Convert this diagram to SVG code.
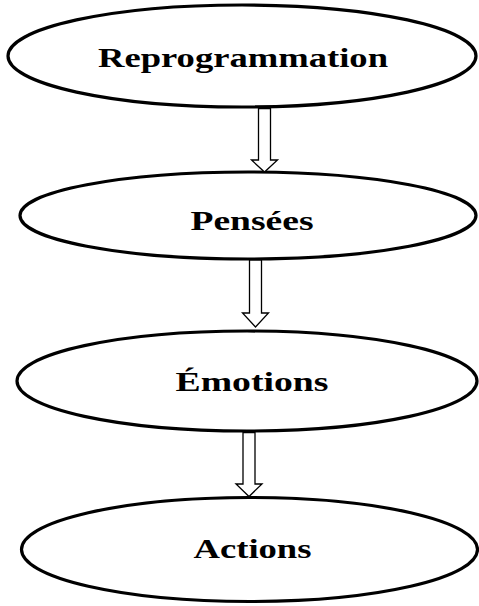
<svg xmlns="http://www.w3.org/2000/svg" width="479" height="606" viewBox="0 0 479 606">
<style>
.node ellipse{fill:#fff;stroke:#000;stroke-width:3.2}
.node text{font-family:"Liberation Serif","Times New Roman",serif;font-weight:bold;font-size:28px;fill:#000;text-anchor:middle}
.arrow{fill:#fff;stroke:#000;stroke-width:1.3;stroke-linejoin:miter}
</style>
<rect width="479" height="606" fill="#fff"/>
<g id="node-reprogrammation" class="node">
<ellipse cx="242" cy="56" rx="234" ry="51"/>
<text x="243" y="67" textLength="290" lengthAdjust="spacingAndGlyphs">Reprogrammation</text>
</g>
<g id="node-pensees" class="node">
<ellipse cx="248" cy="215.5" rx="228" ry="43.5"/>
<text x="252" y="230" textLength="123" lengthAdjust="spacingAndGlyphs">Pensées</text>
</g>
<g id="node-emotions" class="node">
<ellipse cx="247" cy="381" rx="230" ry="50"/>
<text x="252" y="391" textLength="153" lengthAdjust="spacingAndGlyphs">Émotions</text>
</g>
<g id="node-actions" class="node">
<ellipse cx="249.5" cy="549.5" rx="228" ry="52"/>
<text x="252.5" y="558" textLength="118" lengthAdjust="spacingAndGlyphs">Actions</text>
</g>
<g id="connectors">
<polygon class="arrow" points="258.5,108.5 270.5,108.5 270.5,160 277.5,160 264.5,172 251.5,160 258.5,160"/>
<polygon class="arrow" points="249.5,260 261.5,260 261.5,313 268.5,313 255.5,327 242.5,313 249.5,313"/>
<polygon class="arrow" points="243,432.5 255,432.5 255,484 262,484 249,496.5 236,484 243,484"/>
</g>
</svg>
